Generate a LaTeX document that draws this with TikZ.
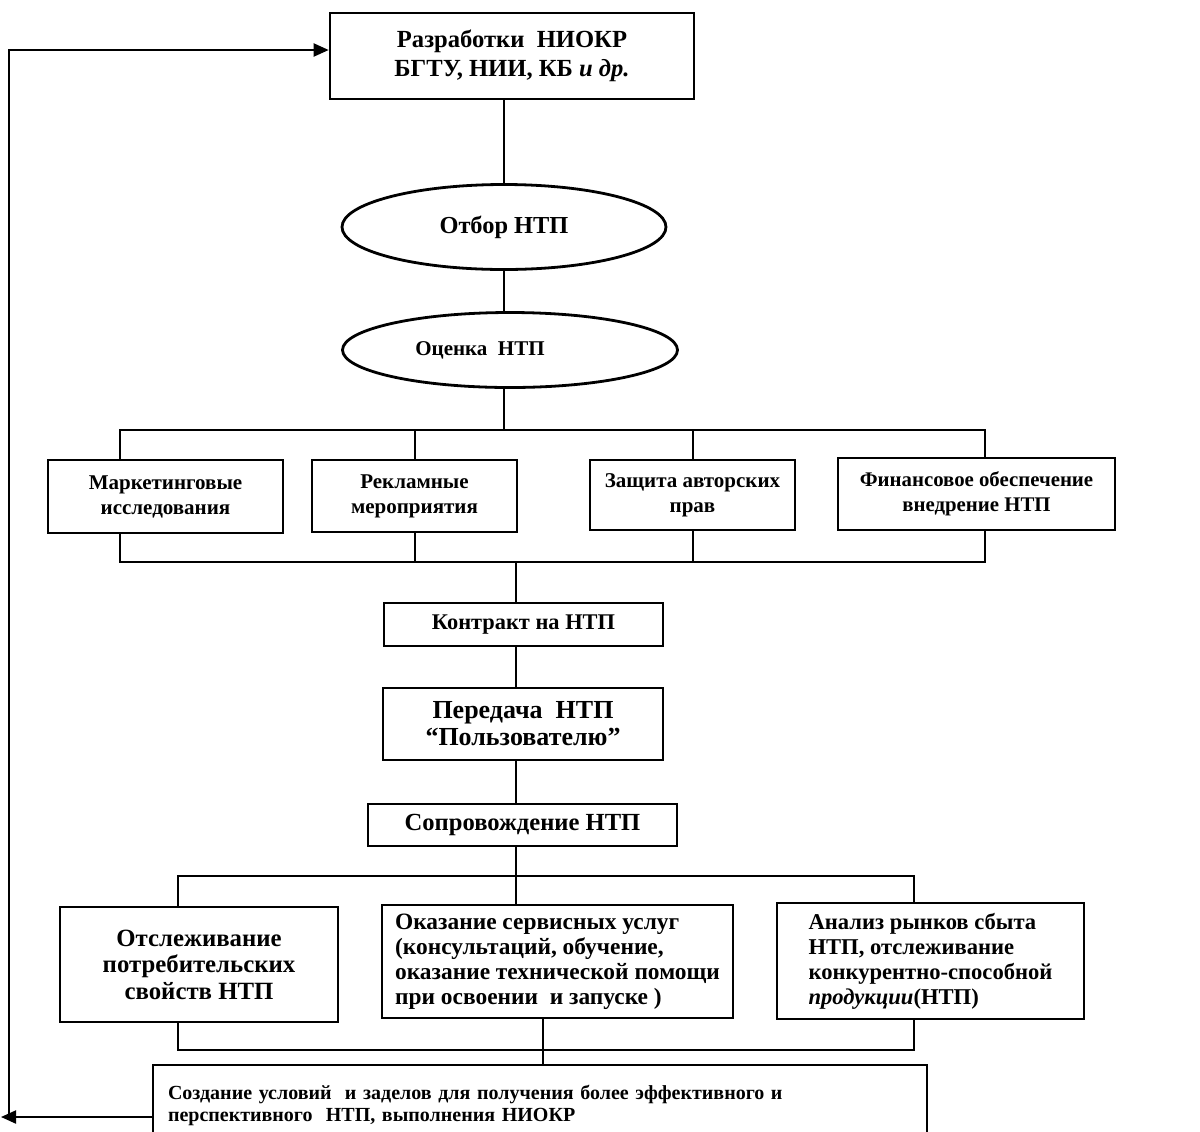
\documentclass[tikz,border=0pt]{standalone}
\usepackage{fontspec}
\setmainfont{Liberation Serif}
\usetikzlibrary{positioning, shapes.geometric, arrows.meta, backgrounds}

\newcommand{\fsz}[2]{\fontsize{#1}{#2}\selectfont}

\tikzset{
  blk/.style={draw, line width=1.3pt, fill=white, align=center, inner sep=2pt},
  oval/.style={draw, ellipse, line width=1.4pt, fill=white, inner sep=0pt},
  link/.style={line width=1pt},
  arr/.style={line width=1pt, -{Triangle[length=7.5pt,width=6.5pt]}},
}

\begin{document}
\begin{tikzpicture}[x=0.5pt, y=-0.5pt]
    \useasboundingbox (0,0) rectangle (1200,1131);

    % chain of stages
    \node (rnd) [blk, minimum width=182pt, minimum height=43pt, font=\bfseries\fsz{12.3}{14.5}] at (512,56) {Разработки\ \ НИОКР\\БГТУ, НИИ, КБ \textit{и др.}};
    \node (otbor) [oval, minimum width=162pt, minimum height=42.5pt, font=\bfseries\fsz{12.2}{14}] at (504,227) {Отбор НТП};
    \node (ocenka) [oval, minimum width=167.5pt, minimum height=37.5pt, font=\bfseries\fsz{10.5}{12}] at (510,350) {Оценка\ \ НТП\hspace*{30pt}};

    \node (mark) [blk, minimum width=117.5pt, minimum height=36.5pt, font=\bfseries\fsz{10.5}{12.5}] at (165.5,496.5) {Маркетинговые\\исследования};
    \node (rekl) [blk, minimum width=102.5pt, minimum height=36pt, font=\bfseries\fsz{10.5}{12.5}] at (414.5,496) {Рекламные\\мероприятия};
    \node (zasch) [blk, minimum width=102.5pt, minimum height=35pt, font=\bfseries\fsz{10.5}{12.5}] at (692.5,495) {Защита авторских\\прав};
    \node (fin) [blk, minimum width=138.5pt, minimum height=36pt, font=\bfseries\fsz{10.4}{12.5}] at (976.5,494) {Финансовое обеспечение\\внедрение НТП};

    \node (kontr) [blk, minimum width=139.5pt, minimum height=21.5pt, font=\bfseries\fsz{11.2}{13}] at (523.5,624.5) {Контракт на НТП};
    \node (pered) [blk, minimum width=140pt, minimum height=36pt, font=\bfseries\fsz{13}{13.5}] at (523,724) {Передача\ \ НТП\\“Пользователю”};
    \node (sopr) [blk, minimum width=154.5pt, minimum height=21pt, font=\bfseries\fsz{12.3}{14}] at (522.5,825) {Сопровождение НТП};

    \node (otsl) [blk, minimum width=139pt, minimum height=57.5pt, font=\bfseries\fsz{12.4}{13.25}] at (199,964.5) {Отслеживание\\потребительских\\свойств НТП};
    \node (okaz) [blk, minimum width=175.5pt, minimum height=56.5pt, align=left, font=\bfseries\fsz{11.7}{12.5}] at (557.5,961.5) {Оказание сервисных услуг\\(консультаций, обучение,\\оказание технической помощи\\при освоении\ \ и запуске )};
    \node (anal) [blk, minimum width=153.5pt, minimum height=58pt, align=left, font=\bfseries\fsz{11.3}{12.5}] at (930.5,961) {Анализ рынков сбыта\\НТП, отслеживание\\конкурентно-способной\\\textit{продукции}(НТП)};

    \node (sozd) [blk, minimum width=387pt, minimum height=40pt, text width=372pt, inner xsep=7.5pt, align=left, font=\bfseries\fsz{10}{11}] at (540,1105) {Создание условий\ \ и заделов для получения более эффективного и\\перспективного\ \ НТП, выполнения НИОКР};

    % frames and spine
    \coordinate (g1nw) at (120,430);
    \coordinate (g1se) at (985,562);
    \coordinate (g2nw) at (178,876);
    \coordinate (g2se) at (914,1050);
    \coordinate (sp2) at (516,0);
    \coordinate (sp3) at (543,0);
    \coordinate (lft) at (9,1117);
    \coordinate (tipL) at (1,1117);

    \begin{scope}[on background layer]
        \draw[link] (rnd.south -| otbor) -- (otbor.north);
        \draw[link] (otbor.south) -- (otbor.south |- ocenka.north);
        \draw[link] (ocenka.south -| otbor) -- (otbor |- g1nw);
        \draw[link] (g1nw) rectangle (g1se);
        \draw[link] (rekl.north |- g1nw) -- (rekl.south |- g1se);
        \draw[link] (zasch.north |- g1nw) -- (zasch.south |- g1se);
        \draw[link] (sp2 |- g1se) -- (kontr.north -| sp2);
        \draw[link] (kontr.south -| sp2) -- (pered.north -| sp2);
        \draw[link] (pered.south -| sp2) -- (sopr.north -| sp2);
        \draw[link] (sopr.south -| sp2) -- (okaz.north -| sp2);
        \draw[link] (g2nw) rectangle (g2se);
        \draw[link] (okaz.south -| sp3) -- (sozd.north -| sp3);
        \draw[arr] ([yshift=-6pt]sozd.west) -- (tipL);
        \draw[arr] (lft) |- ([yshift=3pt]rnd.west);
    \end{scope}
\end{tikzpicture}
\end{document}
